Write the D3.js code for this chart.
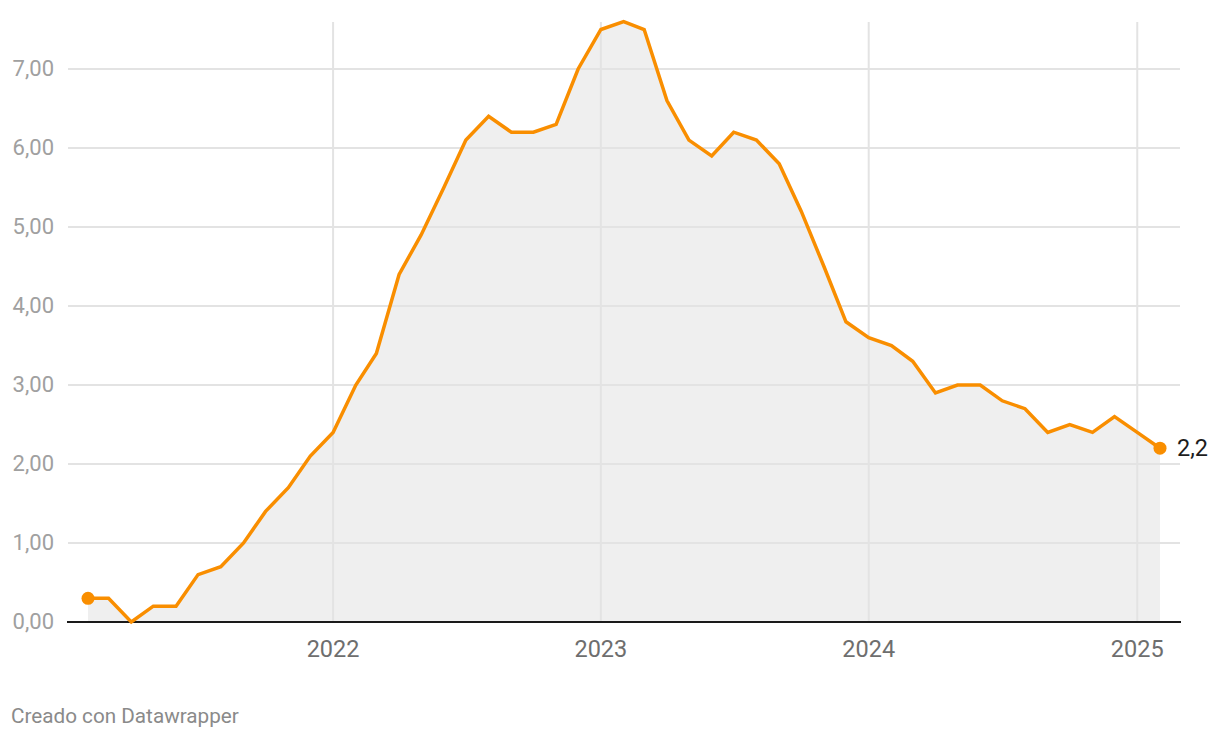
<!DOCTYPE html>
<html>
<head>
<meta charset="utf-8">
<script src="https://cdn.jsdelivr.net/npm/d3@7"></script>
<style>
  html, body { margin: 0; padding: 0; background: #fff; }
  svg { display: block; font-family: Roboto, "Noto Sans", sans-serif; }
</style>
</head>
<body>
<svg id="chart" width="1220" height="738"></svg>
<script>
// Monthly values, Feb 2021 – Feb 2025
const months = [
  "2021-02","2021-03","2021-04","2021-05","2021-06","2021-07","2021-08","2021-09","2021-10","2021-11","2021-12",
  "2022-01","2022-02","2022-03","2022-04","2022-05","2022-06","2022-07","2022-08","2022-09","2022-10","2022-11","2022-12",
  "2023-01","2023-02","2023-03","2023-04","2023-05","2023-06","2023-07","2023-08","2023-09","2023-10","2023-11","2023-12",
  "2024-01","2024-02","2024-03","2024-04","2024-05","2024-06","2024-07","2024-08","2024-09","2024-10","2024-11","2024-12",
  "2025-01","2025-02"
];
const values = [
  0.3, 0.3, 0.0, 0.2, 0.2, 0.6, 0.7, 1.0, 1.4, 1.7, 2.1,
  2.4, 3.0, 3.4, 4.4, 4.9, 5.5, 6.1, 6.4, 6.2, 6.2, 6.3, 7.0,
  7.5, 7.6, 7.5, 6.6, 6.1, 5.9, 6.2, 6.1, 5.8, 5.2, 4.5, 3.8,
  3.6, 3.5, 3.3, 2.9, 3.0, 3.0, 2.8, 2.7, 2.4, 2.5, 2.4, 2.6,
  2.4, 2.2
];
const yTicks = [0, 1, 2, 3, 4, 5, 6, 7];
const xTickYears = ["2022", "2023", "2024", "2025"];
const footer = "Creado con Datawrapper";

const parse = d3.timeParse("%Y-%m");
const data = months.map((m, i) => ({ date: parse(m), value: values[i] }));

const svg = d3.select("#chart");

const x = d3.scaleTime()
  .domain([data[0].date, data[data.length - 1].date])
  .range([88, 1160]);
const y = d3.scaleLinear().domain([0, 7]).range([622, 69]);

const gridLeft = 68, gridRight = 1180, gridTop = 22;
const yearDates = xTickYears.map(s => d3.timeParse("%Y")(s));

// area
const area = d3.area().x(d => x(d.date)).y0(y(0)).y1(d => y(d.value));
svg.append("path").datum(data).attr("d", area)
  .attr("fill", "#efefef");

// horizontal grid
svg.append("g").selectAll("line").data(yTicks.filter(d => d > 0)).join("line")
  .attr("x1", gridLeft).attr("x2", gridRight)
  .attr("y1", d => y(d)).attr("y2", d => y(d))
  .attr("stroke", "#e3e3e3").attr("stroke-width", 2);

// vertical grid at years
svg.append("g").selectAll("line").data(yearDates).join("line")
  .attr("x1", d => x(d)).attr("x2", d => x(d))
  .attr("y1", gridTop).attr("y2", y(0))
  .attr("stroke", "#e3e3e3").attr("stroke-width", 2);

// baseline
svg.append("line")
  .attr("x1", 67).attr("x2", 1181)
  .attr("y1", y(0)).attr("y2", y(0))
  .attr("stroke", "#1a1a1a").attr("stroke-width", 2);

// y axis labels
const fmt = d => d.toFixed(2).replace(".", ",");
svg.append("g").selectAll("text").data(yTicks).join("text")
  .attr("x", 54).attr("y", d => y(d))
  .attr("dy", "0.33em")
  .attr("text-anchor", "end")
  .attr("font-size", 22)
  .attr("fill", "#a0a0a0")
  .text(fmt);

// x axis labels
svg.append("g").selectAll("text").data(yearDates).join("text")
  .attr("x", d => x(d)).attr("y", 657)
  .attr("text-anchor", "middle")
  .attr("font-size", 23.5)
  .attr("fill", "#6e6e6e")
  .text(d => d3.timeFormat("%Y")(d));

// line
const line = d3.line().x(d => x(d.date)).y(d => y(d.value));
svg.append("path").datum(data).attr("d", line)
  .attr("fill", "none").attr("stroke", "#f98e00")
  .attr("stroke-width", 3.5).attr("stroke-linejoin", "miter");

// end points
const first = data[0], last = data[data.length - 1];
svg.append("g").selectAll("circle").data([first, last]).join("circle")
  .attr("cx", d => x(d.date)).attr("cy", d => y(d.value))
  .attr("r", 6.5).attr("fill", "#f98e00");

// last value label
svg.append("text")
  .attr("x", x(last.date) + 17).attr("y", y(last.value))
  .attr("dy", "0.32em")
  .attr("font-size", 23.5)
  .attr("fill", "#1d1d1d")
  .text(String(last.value).replace(".", ","));

// footer
svg.append("text")
  .attr("x", 11).attr("y", 723)
  .attr("font-size", 20.7)
  .attr("fill", "#8a8a8a")
  .text(footer);
</script>
</body>
</html>
